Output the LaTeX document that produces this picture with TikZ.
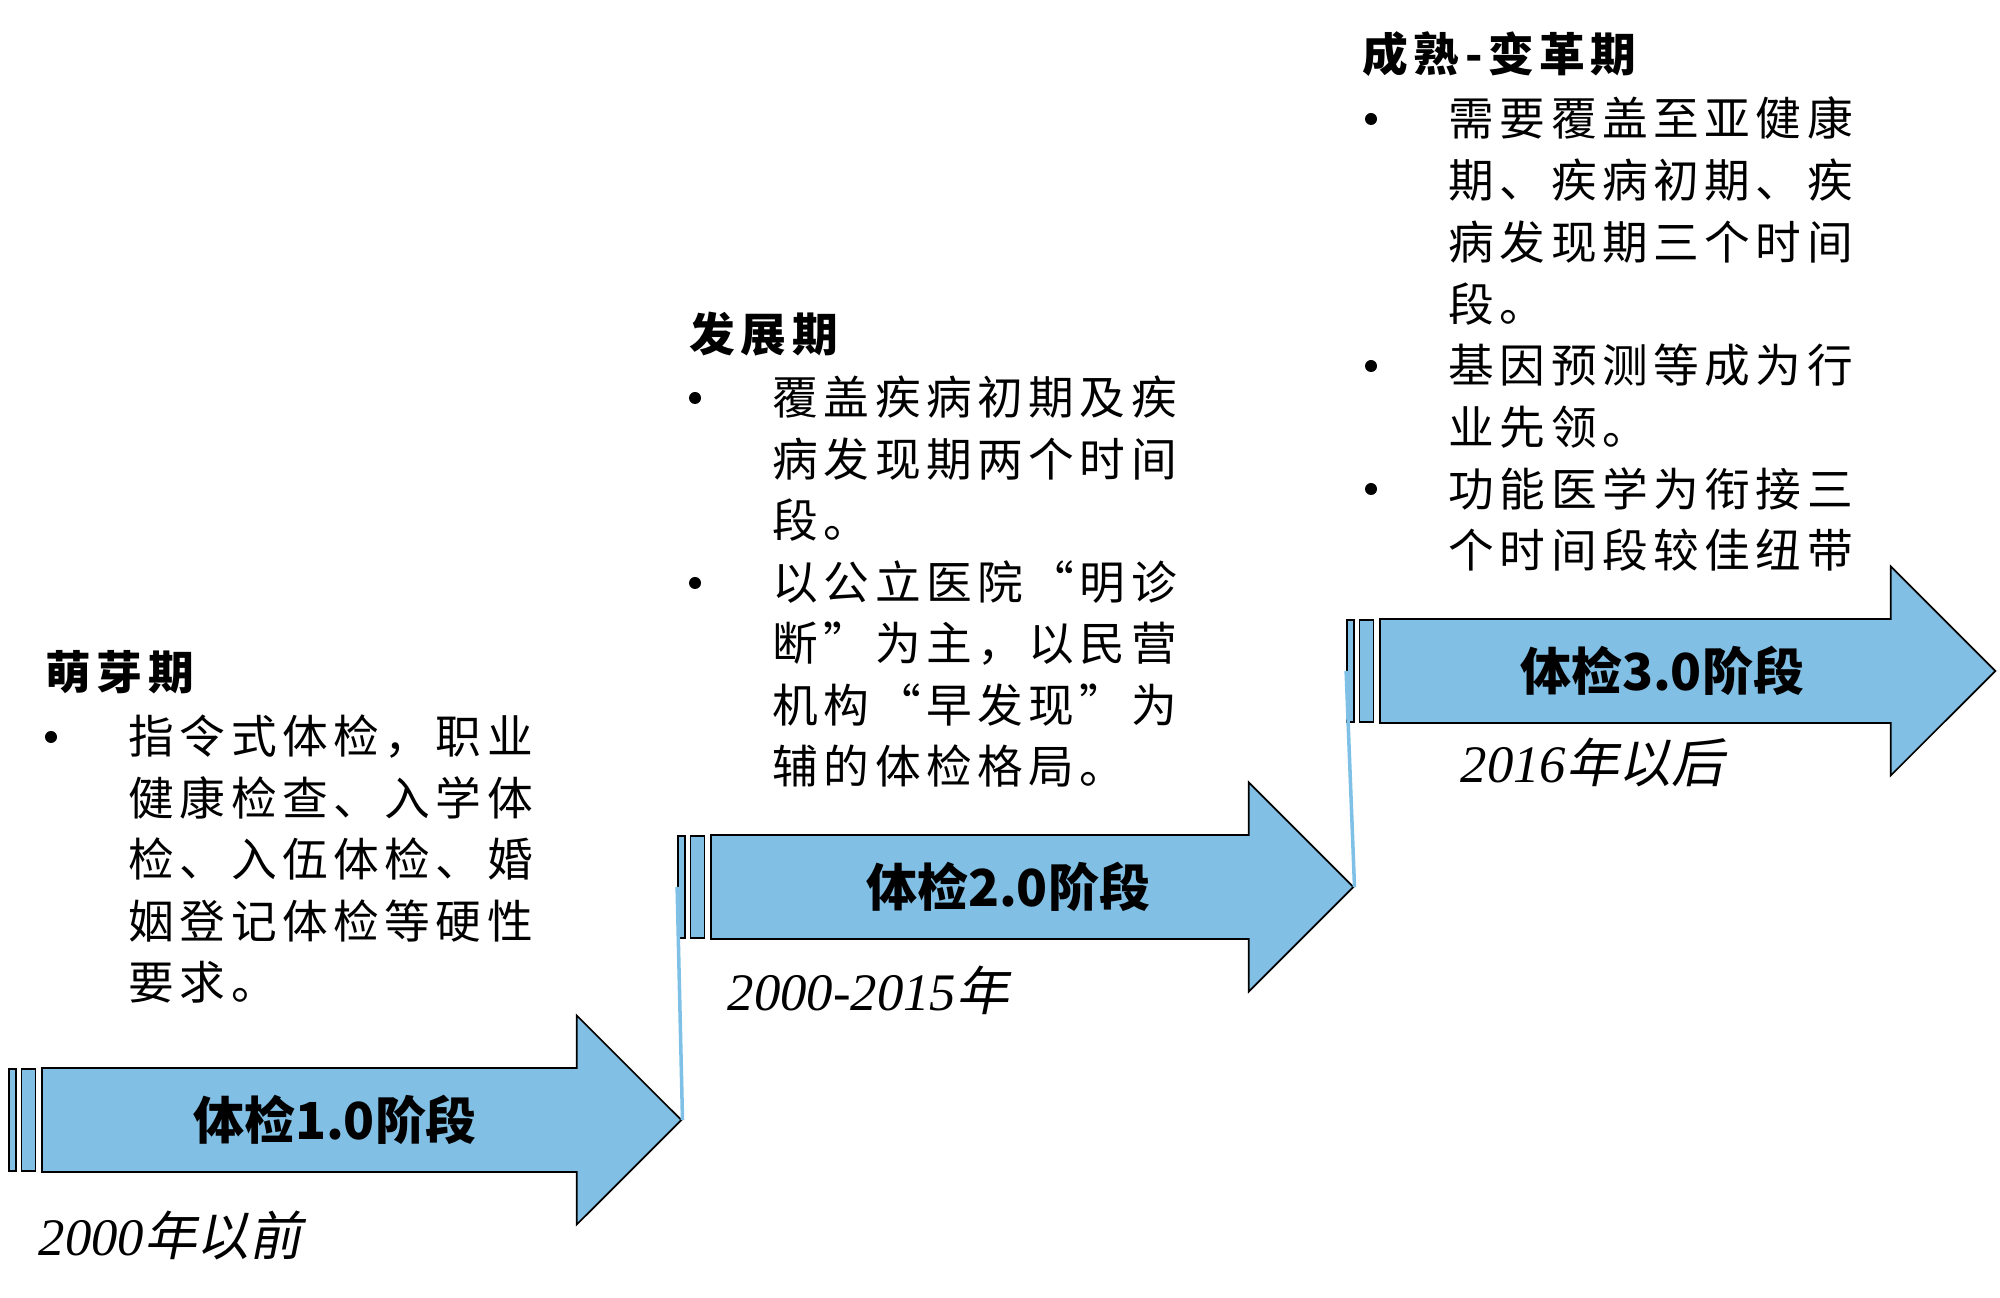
\documentclass[tikz,border=0pt]{standalone}
\usepackage{fontspec}
\setmainfont{Noto Sans CJK SC}
\newfontfamily\bodyfont[LetterSpace=12]{Noto Sans CJK SC}
\newfontfamily\yearcjk[FakeSlant=0.2]{Noto Sans CJK SC}
\newfontfamily\yeardigit{Liberation Serif}
\definecolor{stepblue}{RGB}{129,191,228}
\definecolor{linkblue}{RGB}{126,192,230}
\usetikzlibrary{shapes.arrows}
\newcommand{\yearmark}[2]{{\fontsize{15pt}{18pt}\selectfont{\yeardigit\itshape #1}{\yearcjk #2}}}

\begin{document}
\begin{tikzpicture}[x=0.01cm, y=-0.01cm,
  stagearrow/.style={single arrow, draw=black, fill=stepblue, line width=0.5pt, inner xsep=0pt, inner ysep=0.51cm, single arrow head extend=0.525cm, single arrow tip angle=90, anchor=tail},
  bar/.style={draw=black, fill=stepblue, line width=0.5pt, minimum height=1.02cm, inner sep=0pt},
  stagelabel/.style={font=\fontsize{14.5pt}{18pt}\selectfont\bfseries, inner sep=0pt},
  heading/.style={anchor=base west, inner sep=0pt, font=\fontsize{13pt}{17.5pt}\bodyfont\bfseries},
  bodyline/.style={anchor=base west, inner sep=0pt, font=\fontsize{13pt}{17.5pt}\bodyfont},
  dot/.style={circle, fill=black, inner sep=0pt, minimum size=0.12cm},
  yearlabel/.style={anchor=west, inner sep=0pt},
  link/.style={draw=linkblue, line width=1pt}
]
  \useasboundingbox (0,0) rectangle (2000,1298);

  % stage arrows
  \node[bar, minimum width=0.07cm] (bar1a) at (12.5,1120) {};
  \node[bar, minimum width=0.14cm] (bar1b) at (28.5,1120) {};
  \node[stagearrow, minimum height=6.39cm] (arr1) at (41,1120) {};
  \node[stagelabel] (lab1) at (335,1120) {体检1.0阶段};

  \node[bar, minimum width=0.07cm] (bar2a) at (681.5,887) {};
  \node[bar, minimum width=0.14cm] (bar2b) at (697.5,887) {};
  \node[stagearrow, minimum height=6.42cm] (arr2) at (710,887) {};
  \node[stagelabel] (lab2) at (1008,887) {体检2.0阶段};

  \node[bar, minimum width=0.07cm] (bar3a) at (1350.5,671) {};
  \node[bar, minimum width=0.14cm] (bar3b) at (1366.5,671) {};
  \node[stagearrow, minimum height=6.15cm] (arr3) at (1379,671) {};
  \node[stagelabel] (lab3) at (1662,671) {体检3.0阶段};

  \draw[link] (arr1.tip) -- (bar2a.west);
  \draw[link] (arr2.tip) -- (bar3a.west);

  \node[yearlabel] (yr1) at (38,1235) {\yearmark{2000}{年以前}};
  \node[yearlabel] (yr2) at (727,990) {\yearmark{2000-2015}{年}};
  \node[yearlabel] (yr3) at (1460,763) {\yearmark{2016}{年以后}};

  % stage texts
  \node[heading] (head1) at (45,690) {萌芽期};
  \node[dot] (dot1) at (51,737) {};
  \foreach \txt [count=\i from 0] in {指令式体检，职业, 健康检查、入学体, 检、入伍体检、婚, 姻登记体检等硬性, 要求。}
    \node[bodyline] (one\i) at (128,754+61.5*\i) {\txt};

  \node[heading] (head2) at (689,352) {发展期};
  \node[dot] (dot2a) at (695,398) {};
  \node[dot] (dot2b) at (695,583) {};
  \foreach \txt [count=\i from 0] in {覆盖疾病初期及疾, 病发现期两个时间, 段。, 以公立医院“明诊, 断”为主，以民营, 机构“早发现”为, 辅的体检格局。}
    \node[bodyline] (two\i) at (772,415+61.5*\i) {\txt};

  \node[heading] (head3) at (1362,72) {成熟-变革期};
  \node[dot] (dot3a) at (1371,119) {};
  \node[dot] (dot3b) at (1371,366) {};
  \node[dot] (dot3c) at (1371,489) {};
  \foreach \txt [count=\i from 0] in {需要覆盖至亚健康, 期、疾病初期、疾, 病发现期三个时间, 段。, 基因预测等成为行, 业先领。, 功能医学为衔接三, 个时间段较佳纽带}
    \node[bodyline] (three\i) at (1448,136+61.7*\i) {\txt};
\end{tikzpicture}
\end{document}
